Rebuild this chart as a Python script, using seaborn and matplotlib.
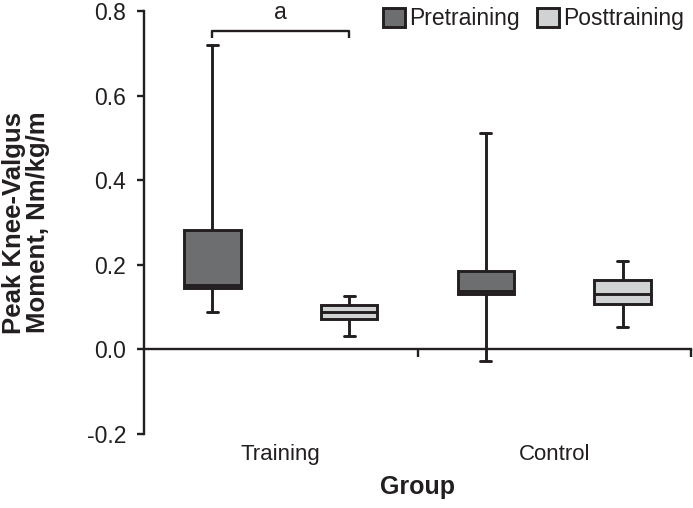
import numpy as np
import pandas as pd
import matplotlib
matplotlib.use("Agg")
import matplotlib.pyplot as plt
import seaborn as sns
from matplotlib.ticker import FormatStrFormatter

# ---- data (five-number summaries: min, q1, median, q3, max)
groups = ["Training", "Control"]
phases = ["Pretraining", "Posttraining"]
training_pre = [0.089, 0.144, 0.153, 0.282, 0.720]
training_post = [0.031, 0.071, 0.089, 0.106, 0.127]
control_pre = [-0.028, 0.131, 0.138, 0.186, 0.511]
control_post = [0.052, 0.107, 0.132, 0.163, 0.209]
y_ticks = [-0.2, 0.0, 0.2, 0.4, 0.6, 0.8]
sig_label = "a"

fill_colors = ["#6d6e70", "#d1d2d4"]
edge = "#231f20"

rows = []
for g, p, vals in [
    (groups[0], phases[0], training_pre),
    (groups[0], phases[1], training_post),
    (groups[1], phases[0], control_pre),
    (groups[1], phases[1], control_post),
]:
    for v in vals:
        rows.append({"group": g, "phase": p, "value": v})
df = pd.DataFrame(rows)

sns.set_theme(style="ticks")
plt.rcParams["font.family"] = ["Liberation Sans", "DejaVu Sans"]
plt.rcParams["text.color"] = edge
plt.rcParams["axes.labelcolor"] = edge
plt.rcParams["xtick.color"] = edge
plt.rcParams["ytick.color"] = edge
plt.rcParams["axes.edgecolor"] = edge

fig = plt.figure(figsize=(6.93, 5.08), dpi=100)
ax = fig.add_axes([144 / 693, (508 - 434) / 508, (691 - 144) / 693, (434 - 11) / 508])

BOX_WIDTH = 1.0
sns.boxplot(
    data=df, x="group", y="value", hue="phase",
    order=groups, hue_order=phases, palette=fill_colors,
    width=BOX_WIDTH, gap=0.587, whis=(0, 100), linewidth=2.1,
    linecolor=edge, saturation=1, capwidths=0.04, ax=ax,
)

ax.set_xlim(-0.5, 1.5)
ax.set_ylim(-0.2, 0.8)
for s in ["top", "right"]:
    ax.spines[s].set_visible(False)
ax.spines["bottom"].set_position(("data", 0))
ax.spines["left"].set_linewidth(1.7)
ax.spines["bottom"].set_linewidth(1.7)

ax.set_yticks(y_ticks)
ax.yaxis.set_major_formatter(FormatStrFormatter("%.1f"))
ax.tick_params(axis="y", length=5, width=1.7, pad=8, labelsize=16.5)

ax.set_xticks([0, 1])
ax.set_xticklabels(groups)
ax.set_xticks([0.5, 1.5], minor=True)
ax.tick_params(axis="x", which="major", length=0, pad=68, labelsize=16)
ax.tick_params(axis="x", which="minor", length=5.5, width=1.7, direction="out")

ax.set_xlabel("Group", fontsize=18, fontweight="bold", labelpad=7)
ax.set_ylabel("Peak Knee-Valgus\nMoment, Nm/kg/m", fontsize=18.5,
              fontweight="bold", linespacing=1.0)
ax.yaxis.set_label_coords(-0.172, 0.5)

# significance bracket between the Training boxes
d = BOX_WIDTH / 4
ax.plot([-d, -d, d, d], [0.736, 0.753, 0.753, 0.736], color=edge, lw=1.7,
        clip_on=False, solid_capstyle="butt")
ax.text(0, 0.77, sig_label, ha="center", va="bottom", fontsize=16.5)

handles, labels = ax.get_legend_handles_labels()
for h in handles:
    h.set_edgecolor(edge)
    h.set_linewidth(2.1)
ax.legend(handles, labels, loc="upper right", bbox_to_anchor=(1.004, 1.008),
          bbox_transform=fig.transFigure, ncol=2, frameon=False, borderpad=0,
          handlelength=0.95, handleheight=0.95, handletextpad=0.2,
          columnspacing=0.75, fontsize=16.5)

fig.savefig("out.png", dpi=100)
